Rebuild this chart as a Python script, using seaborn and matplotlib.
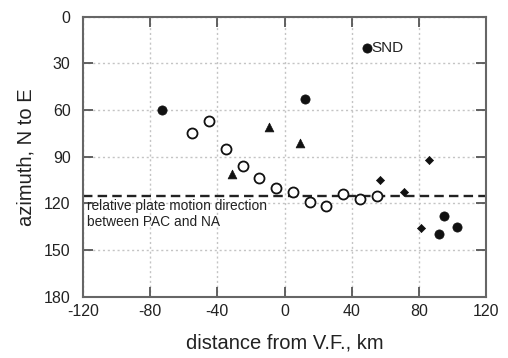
import matplotlib
matplotlib.use("Agg")
import matplotlib.pyplot as plt
import seaborn as sns
import pandas as pd

# station groups: distance from V.F. (km) and azimuth (deg, N to E)
filled_x = [-73, 12, 49, 95, 103, 92]
filled_y = [60, 53, 20, 128, 135, 140]

open_x = [-55, -45, -35, -25, -15, -5, 5, 15, 25, 35, 45, 55]
open_y = [75, 67, 85, 96, 104, 110, 113, 119, 122, 114, 117, 115]

tri_x = [-31, -9, 9]
tri_y = [101, 71, 81]

diam_x = [86, 57, 71, 81]
diam_y = [92, 105, 113, 136]

plate_motion = 115
snd_label = "SND"

x_ticks = [-120, -80, -40, 0, 40, 80, 120]
y_ticks = [0, 30, 60, 90, 120, 150, 180]

sns.set_style("white")
plt.rcParams['font.family'] = ['Liberation Sans', 'DejaVu Sans']

fig = plt.figure(figsize=(5.08, 3.58), dpi=100)
ax = fig.add_axes([0.1634, 0.1712, 0.7933, 0.7822])

# reference line for relative plate motion
ax.axhline(plate_motion, color='#222222', linestyle=(0, (4, 2.2)), lw=1.7, zorder=1)

sns.scatterplot(x=open_x, y=open_y, ax=ax, marker='o', s=52,
                facecolor='white', edgecolor='#111111', linewidth=1.3, zorder=3)
sns.scatterplot(x=filled_x, y=filled_y, ax=ax, marker='o', s=44,
                color='#111111', edgecolor='#111111', linewidth=0.5, zorder=3)
sns.scatterplot(x=tri_x, y=tri_y, ax=ax, marker='^', s=40,
                color='#111111', edgecolor='#111111', linewidth=0.5, zorder=3)
sns.scatterplot(x=diam_x, y=diam_y, ax=ax, marker='D', s=17,
                color='#111111', edgecolor='#111111', linewidth=0.5, zorder=3)

ax.text(filled_x[2] + 3, filled_y[2], snd_label, fontsize=11,
        va='center', ha='left', color='#222222')
ax.text(-117.5, plate_motion + 2.5, "relative plate motion direction\nbetween PAC and NA",
        fontsize=9.9, va='top', ha='left', color='#222222', linespacing=1.1)

ax.set_xlim(-120, 120)
ax.set_ylim(180, 0)
ax.set_xticks(x_ticks)
ax.set_yticks(y_ticks)
ax.set_xticklabels([str(t) for t in x_ticks])
ax.set_yticklabels([str(t) for t in y_ticks])

ax.grid(True, color='#c4c4c4', linestyle=(0, (1.5, 2)), lw=1.0)
ax.set_axisbelow(True)
ax.tick_params(direction='in', length=7, width=1.3, colors='#555555',
               labelcolor='#222222', labelsize=11.5, top=True, right=True,
               bottom=True, left=True)
ax.tick_params(axis='x', pad=5)
ax.tick_params(axis='y', pad=9)
for sp in ax.spines.values():
    sp.set_color('#666666')
    sp.set_linewidth(1.5)

ax.set_xlabel("distance from V.F., km", fontsize=14.5, color='#222222', labelpad=11)
ax.set_ylabel("azimuth, N to E", fontsize=14.5, color='#222222', labelpad=6)

fig.savefig("out.png", dpi=100)
